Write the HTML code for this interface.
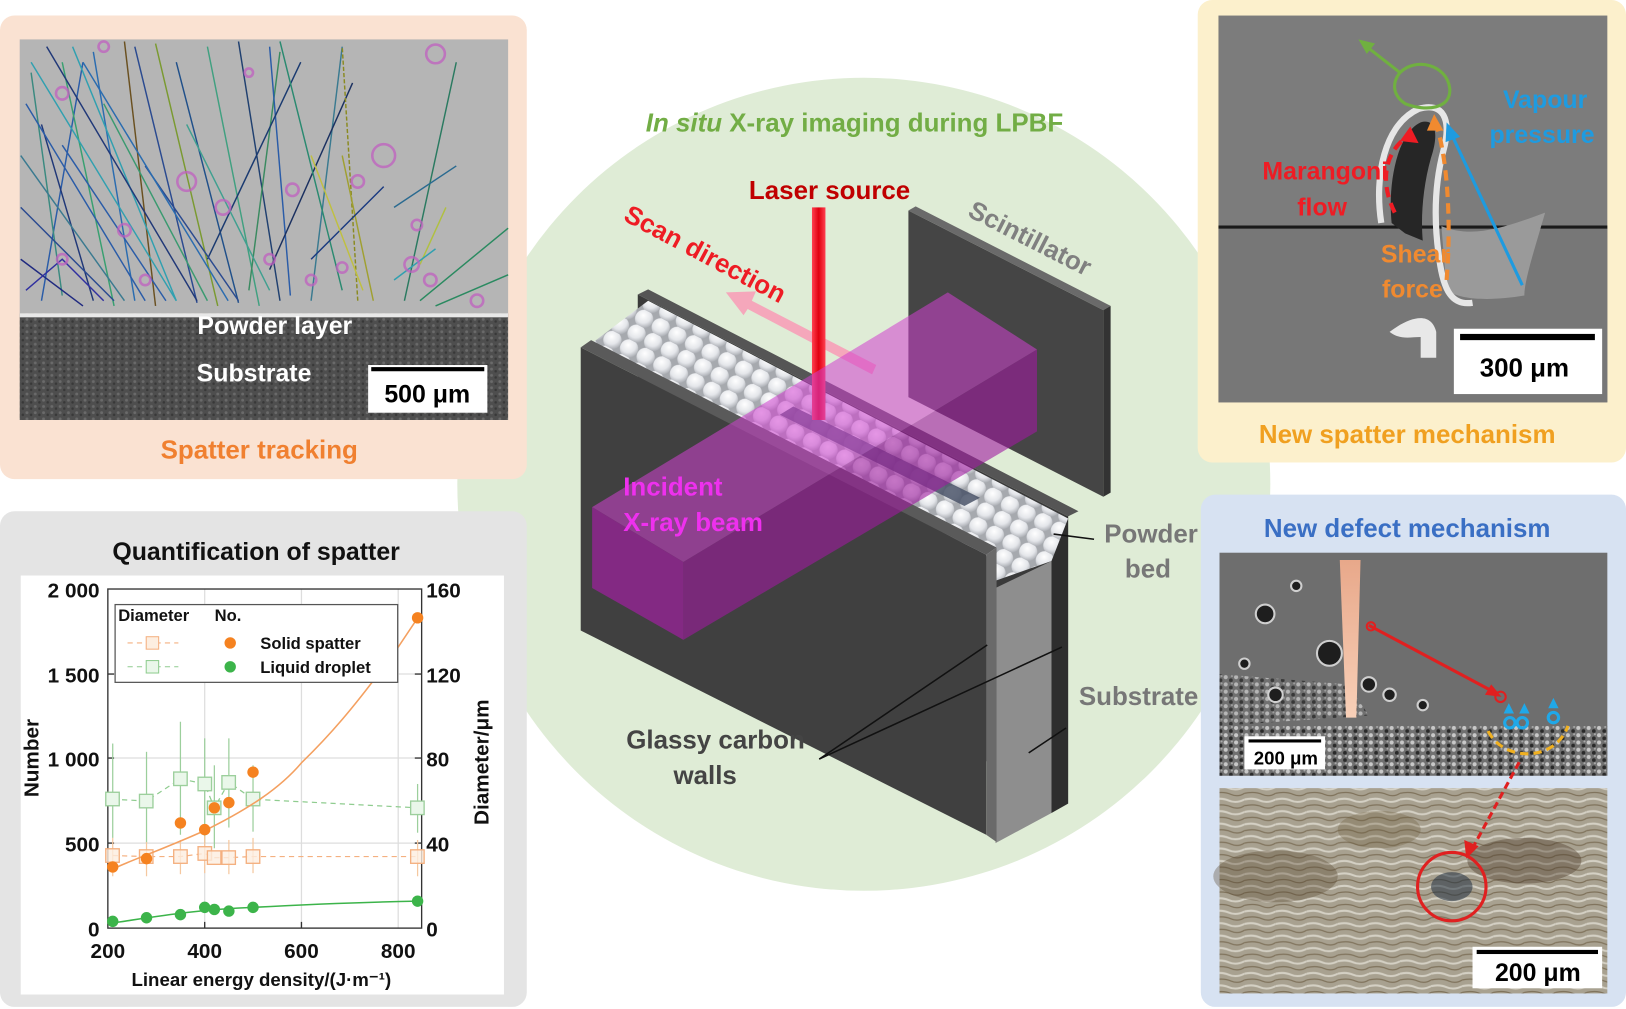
<!DOCTYPE html>
<html><head><meta charset="utf-8"><style>
html,body{margin:0;padding:0;background:#fff;}
svg{display:block;}
text{font-family:"Liberation Sans",Arial,sans-serif;font-weight:bold;}
</style></head><body>
<svg width="1626" height="1009" viewBox="0 0 1568 973" preserveAspectRatio="none" xmlns="http://www.w3.org/2000/svg">
<defs>
<radialGradient id="ball" cx="0.38" cy="0.35" r="0.7"><stop offset="0" stop-color="#ffffff"/><stop offset="0.6" stop-color="#e4e6ea"/><stop offset="1" stop-color="#a9acb2"/></radialGradient>
<pattern id="balls" width="18" height="16" patternUnits="userSpaceOnUse" patternTransform="rotate(27)">
<rect width="18" height="16" fill="#a6a9ae"/>
<circle cx="9" cy="8" r="8.8" fill="url(#ball)"/>
</pattern>
<pattern id="noise" width="8" height="6" patternUnits="userSpaceOnUse">
<rect width="8" height="6" fill="#4e4e4e"/><circle cx="2" cy="2" r="1.4" fill="#6a6a6a"/><circle cx="6" cy="4" r="1.2" fill="#383838"/>
</pattern>
<pattern id="noise2" width="10" height="7" patternUnits="userSpaceOnUse">
<rect width="10" height="7" fill="#707070"/><circle cx="2" cy="2" r="2" fill="#c8c8c8"/><circle cx="7" cy="5" r="1.8" fill="#2a2a2a"/><circle cx="8" cy="1" r="1" fill="#aaaaaa"/>
</pattern>
<pattern id="micro" width="30" height="12" patternUnits="userSpaceOnUse">
<rect width="30" height="12" fill="#a8a190"/><path d="M0 3 Q8 1 15 4 T30 3" stroke="#d4d0c4" stroke-width="2" fill="none"/><path d="M0 9 Q10 7 17 10 T30 9" stroke="#6e5e44" stroke-width="1.2" fill="none" opacity="0.7"/>
</pattern>
<linearGradient id="laser" x1="0" x2="1"><stop offset="0" stop-color="#ff4050"/><stop offset="0.5" stop-color="#e00010"/><stop offset="1" stop-color="#ff4050"/></linearGradient>
<linearGradient id="cone" x1="0" x2="0" y1="0" y2="1"><stop offset="0" stop-color="#e8a88a"/><stop offset="1" stop-color="#f8d0b8"/></linearGradient>
</defs>

<circle cx="833" cy="467" r="392" fill="#dfecd6"/>

<!-- top-left panel -->
<rect x="0" y="15" width="508" height="447" rx="14" fill="#fae2d2"/>
<rect x="19" y="38" width="471" height="264" fill="#b5b5b5"/>
<rect x="19" y="302" width="471" height="103" fill="url(#noise)"/>
<rect x="19" y="302" width="471" height="4" fill="#e8e8e8"/>
<g fill="none" stroke-width="1.4">
<path d="M40 290 L80 60" stroke="#2a5ca8"/><path d="M60 285 L30 70" stroke="#3a8a80"/><path d="M90 290 L40 120" stroke="#203878"/>
<path d="M110 295 L60 60" stroke="#38a070"/><path d="M130 290 L90 50" stroke="#2a6cb0"/><path d="M150 295 L120 40" stroke="#6a5020"/>
<path d="M170 290 L70 45" stroke="#30a0b0"/><path d="M190 292 L130 45" stroke="#2a4a90"/><path d="M210 295 L150 42" stroke="#7a9a30"/>
<path d="M230 292 L170 60" stroke="#20508a"/><path d="M250 295 L200 45" stroke="#40a080"/><path d="M270 290 L230 40" stroke="#204070"/>
<path d="M240 280 L270 50" stroke="#3a8a60"/><path d="M280 285 L260 45" stroke="#2a5ca8"/><path d="M300 290 L330 45" stroke="#3a7a90"/>
<path d="M200 250 L290 60" stroke="#1a3a70"/><path d="M260 260 L340 80" stroke="#1a3060"/><path d="M330 280 L270 40" stroke="#2a8a70"/>
<path d="M345 290 L330 45" stroke="#8a8a20" stroke-dasharray="4 2"/><path d="M360 290 L330 150" stroke="#a0a030"/>
<path d="M300 250 L370 180" stroke="#1a3a80"/><path d="M390 290 L440 60" stroke="#2a7a60"/><path d="M405 290 L490 220" stroke="#2a8a60"/>
<path d="M420 295 L490 265" stroke="#2a8a60"/><path d="M380 200 L440 160" stroke="#2a6a90"/><path d="M20 200 L110 290" stroke="#2a4a90"/>
<path d="M20 150 L120 290" stroke="#3a7a90"/><path d="M20 250 L80 295" stroke="#202a80"/><path d="M60 140 L160 290" stroke="#2a5ca8"/>
<path d="M100 100 L200 290" stroke="#3a9a70"/><path d="M140 160 L230 290" stroke="#2a4a90"/><path d="M180 120 L260 280" stroke="#40a090"/>
<path d="M300 150 L350 280" stroke="#c0c040"/><path d="M405 255 L430 200" stroke="#b0c040"/><path d="M380 270 L420 240" stroke="#30a0b0"/>
<path d="M25 100 L140 290" stroke="#2a5ca8"/><path d="M30 60 L170 290" stroke="#30a0b0"/><path d="M45 45 L190 290" stroke="#203878"/>
<path d="M25 280 L60 250 L100 290" stroke="#3030a0"/><path d="M80 60 L220 290" stroke="#2a6cb0"/>
</g>
<g fill="none" stroke="#c060c0" stroke-width="2.5" opacity="0.75">
<circle cx="420" cy="52" r="9"/><circle cx="370" cy="150" r="11"/><circle cx="180" cy="175" r="9"/><circle cx="345" cy="175" r="6"/>
<circle cx="282" cy="183" r="6"/><circle cx="402" cy="217" r="5"/><circle cx="397" cy="255" r="7"/><circle cx="415" cy="270" r="6"/>
<circle cx="460" cy="290" r="6"/><circle cx="60" cy="90" r="6"/><circle cx="240" cy="70" r="4"/><circle cx="100" cy="45" r="5"/>
<circle cx="215" cy="200" r="7"/><circle cx="120" cy="222" r="6"/><circle cx="330" cy="258" r="5"/><circle cx="60" cy="250" r="5"/><circle cx="140" cy="270" r="5"/><circle cx="260" cy="250" r="5"/><circle cx="300" cy="270" r="5"/>
</g>
<text x="265" y="322" font-size="24" fill="#fff" text-anchor="middle">Powder layer</text>
<text x="245" y="368" font-size="24" fill="#fff" text-anchor="middle">Substrate</text>
<rect x="355" y="352" width="115" height="46" fill="#fff"/>
<rect x="358" y="354" width="109" height="4" fill="#000"/>
<text x="412" y="388" font-size="24" fill="#000" text-anchor="middle">500 μm</text>
<text x="250" y="442" font-size="25" fill="#f08030" text-anchor="middle">Spatter tracking</text>

<!-- bottom-left chart panel -->
<rect x="0" y="493" width="508" height="478" rx="14" fill="#e4e4e4"/>
<text x="247" y="540" font-size="24" fill="#111" text-anchor="middle">Quantification of spatter</text>
<rect x="20" y="555" width="466" height="404" fill="#fff"/>
<g stroke="#dddddd" stroke-width="1.2">
<line x1="197.4" y1="568" x2="197.4" y2="895"/><line x1="290.7" y1="568" x2="290.7" y2="895"/><line x1="384" y1="568" x2="384" y2="895"/>
<line x1="104" y1="813" x2="406.6" y2="813"/><line x1="104" y1="731" x2="406.6" y2="731"/><line x1="104" y1="650" x2="406.6" y2="650"/>
</g>
<g stroke="#333" stroke-width="1.3" fill="none">
<rect x="104" y="568" width="302.6" height="327"/>
<line x1="104" y1="813" x2="110" y2="813"/><line x1="104" y1="731" x2="110" y2="731"/><line x1="104" y1="650" x2="110" y2="650"/>
<line x1="400" y1="813" x2="406.6" y2="813"/><line x1="400" y1="731" x2="406.6" y2="731"/><line x1="400" y1="650" x2="406.6" y2="650"/>
<line x1="197.4" y1="889" x2="197.4" y2="895"/><line x1="290.7" y1="889" x2="290.7" y2="895"/>
</g>
<g font-size="20" fill="#111">
<text x="96" y="576" text-anchor="end">2 000</text><text x="96" y="658" text-anchor="end">1 500</text><text x="96" y="739" text-anchor="end">1 000</text>
<text x="96" y="821" text-anchor="end">500</text><text x="96" y="903" text-anchor="end">0</text>
<text x="411" y="576">160</text><text x="411" y="658">120</text><text x="411" y="739">80</text><text x="411" y="821">40</text><text x="411" y="903">0</text>
<text x="104" y="924" text-anchor="middle">200</text><text x="197.4" y="924" text-anchor="middle">400</text><text x="290.7" y="924" text-anchor="middle">600</text><text x="384" y="924" text-anchor="middle">800</text>
<text x="252" y="951" text-anchor="middle" font-size="18">Linear energy density/(J·m⁻¹)</text>
<text transform="translate(37,731) rotate(-90)" text-anchor="middle">Number</text>
<text transform="translate(471,735) rotate(-90)" text-anchor="middle">Diameter/μm</text>
</g>
<g stroke="#9ccf9c" stroke-width="1.2">
<line x1="108.7" y1="808" x2="108.7" y2="717"/><line x1="141.3" y1="813" x2="141.3" y2="725"/><line x1="174" y1="805" x2="174" y2="696"/>
<line x1="197.4" y1="813" x2="197.4" y2="712"/><line x1="206.7" y1="818" x2="206.7" y2="738"/><line x1="220.7" y1="798" x2="220.7" y2="712"/>
<line x1="244" y1="802" x2="244" y2="738"/><line x1="402.7" y1="803" x2="402.7" y2="756"/>
</g>
<g stroke="#f5c8a0" stroke-width="1.2">
<line x1="108.7" y1="808" x2="108.7" y2="845"/><line x1="141.3" y1="812" x2="141.3" y2="845"/><line x1="174" y1="810" x2="174" y2="843"/><line x1="197.4" y1="806" x2="197.4" y2="842"/><line x1="220.7" y1="810" x2="220.7" y2="843"/><line x1="244" y1="808" x2="244" y2="842"/><line x1="402.7" y1="810" x2="402.7" y2="845"/>
</g>
<polyline fill="none" stroke="#8fcc8f" stroke-width="1.2" stroke-dasharray="5 4" points="108.7,770.7 141.3,772.4 174,751 197.4,756 206.7,779 220.7,754.4 244,770.7 402.7,779"/>
<polyline fill="none" stroke="#f4b080" stroke-width="1.2" stroke-dasharray="5 4" points="108.7,825 141.3,826 174,826 197.4,823 206.7,827 220.7,827 244,826 402.7,826"/>
<g fill="#eaf7ea" stroke="#9ccf9c" stroke-width="1.3">
<rect x="102" y="764" width="13" height="13"/><rect x="134.5" y="766" width="13" height="13"/><rect x="167.5" y="744.5" width="13" height="13"/><rect x="191" y="749.5" width="13" height="13"/><rect x="200" y="772.5" width="13" height="13"/><rect x="214" y="748" width="13" height="13"/><rect x="237.5" y="764" width="13" height="13"/><rect x="396" y="772.5" width="13" height="13"/>
</g>
<g fill="#fdeee0" stroke="#f4b080" stroke-width="1.3" fill-opacity="0.8">
<rect x="102" y="818.5" width="13" height="13"/><rect x="134.5" y="819.5" width="13" height="13"/><rect x="167.5" y="819.5" width="13" height="13"/><rect x="191" y="816.5" width="13" height="13"/><rect x="200" y="820.5" width="13" height="13"/><rect x="214" y="820.5" width="13" height="13"/><rect x="237.5" y="819.5" width="13" height="13"/><rect x="396" y="819.5" width="13" height="13"/>
</g>
<path d="M108.7 838 C130 828 150 822 197.4 801 C240 780 270 760 290.7 735.6 C315 712 340 685 384 624 L402.7 596" fill="none" stroke="#f4a060" stroke-width="1.5"/>
<path d="M108.7 890 C150 884 190 877 244 875 C300 872 350 870 402.7 869" fill="none" stroke="#3cb44a" stroke-width="1.5"/>
<g fill="#f58220">
<circle cx="108.7" cy="836" r="5.5"/><circle cx="141.3" cy="828" r="5.5"/><circle cx="174" cy="793.6" r="5.5"/><circle cx="197.4" cy="800" r="5.5"/><circle cx="206.7" cy="779" r="5.5"/><circle cx="220.7" cy="774" r="5.5"/><circle cx="244" cy="744.6" r="5.5"/><circle cx="402.7" cy="595.8" r="5.5"/>
</g>
<g fill="#3cb44a">
<circle cx="108.7" cy="888.5" r="5.5"/><circle cx="141.3" cy="885" r="5.5"/><circle cx="174" cy="882" r="5.5"/><circle cx="197.4" cy="875" r="5.5"/><circle cx="206.7" cy="877" r="5.5"/><circle cx="220.7" cy="878.6" r="5.5"/><circle cx="244" cy="875" r="5.5"/><circle cx="402.7" cy="869" r="5.5"/>
</g>
<rect x="111" y="583" width="272.5" height="75" fill="#fff" stroke="#555" stroke-width="1.2"/>
<g font-size="16" fill="#111">
<text x="114" y="599">Diameter</text><text x="207" y="599">No.</text>
<text x="251" y="626">Solid spatter</text><text x="251" y="649">Liquid droplet</text>
</g>
<line x1="123" y1="620" x2="172" y2="620" stroke="#f4b080" stroke-dasharray="5 4"/><rect x="141" y="614" width="12" height="12" fill="#fdeee0" stroke="#f4b080"/>
<line x1="123" y1="643" x2="172" y2="643" stroke="#8fcc8f" stroke-dasharray="5 4"/><rect x="141" y="637" width="12" height="12" fill="#eaf7ea" stroke="#8fcc8f"/>
<circle cx="222" cy="620" r="5.5" fill="#f58220"/><circle cx="222" cy="643" r="5.5" fill="#3cb44a"/>

<!-- center content -->
<text x="824" y="127" font-size="25" fill="#72ad45" text-anchor="middle"><tspan font-style="italic">In situ</tspan> X-ray imaging during LPBF</text>
<text x="800" y="192" font-size="25" fill="#c00000" text-anchor="middle">Laser source</text>
<text transform="translate(600,212) rotate(28)" font-size="25" fill="#ee1c24">Scan direction</text>
<text transform="translate(932,208) rotate(27)" font-size="25" fill="#808080">Scintillator</text>

<polygon points="876,203 1064,299 1064,479 876,383" fill="#454545"/>
<polygon points="876,203 883,199 1071,295 1064,299" fill="#6a6a6a"/>
<polygon points="1064,299 1071,295 1071,475 1064,479" fill="#333"/>

<polygon points="615,284 1030,498 1030,775 615,560" fill="#3a3a3a"/>
<polygon points="615,284 625,279 1040,493 1030,498" fill="#555"/>
<polygon points="960,567 1014,541 1014,784 960,813" fill="#8e8e8e"/>
<polygon points="1014,498 1030,498 1030,775 1014,784" fill="#2e2e2e"/>
<polygon points="572,330 625,290 1030,500 1014,541 960,560 951,536" fill="url(#balls)"/>
<polygon points="765,392 945,480 930,488 752,400" fill="#4a5468" opacity="0.85"/>
<polygon points="560,335 951,535 951,805 560,608" fill="#404040"/>
<polygon points="560,335 570,328 961,528 951,535" fill="#5a5a5a"/>
<polygon points="951,535 961,528 961,812 951,805" fill="#6a6a6a"/>
<polygon points="845,352 725,290 729,281 700,282 717,304 721,298 841,361" fill="#f7a0b8" opacity="0.9"/>
<rect x="783" y="200" width="13" height="205" fill="url(#laser)"/>
<polygon points="571,489 914,282 1000,337 659,542" fill="#d040d0" opacity="0.55"/>
<polygon points="659,542 1000,337 1000,416 659,617" fill="#a01aa0" opacity="0.6"/>
<polygon points="571,489 659,542 659,617 571,567" fill="#a020a0" opacity="0.7"/>
<text x="601" y="478" font-size="25" fill="#ee30ee">Incident</text>
<text x="601" y="512" font-size="25" fill="#ee30ee">X-ray beam</text>

<text x="1110" y="523" font-size="25" fill="#777" text-anchor="middle">Powder</text>
<text x="1107" y="557" font-size="25" fill="#777" text-anchor="middle">bed</text>
<line x1="1055" y1="520" x2="1016" y2="515" stroke="#111" stroke-width="1.5"/>
<text x="1098" y="680" font-size="25" fill="#777" text-anchor="middle">Substrate</text>
<line x1="1028" y1="702" x2="992" y2="726" stroke="#111" stroke-width="1.5"/>
<text x="690" y="722" font-size="25" fill="#444" text-anchor="middle">Glassy carbon</text>
<text x="680" y="756" font-size="25" fill="#444" text-anchor="middle">walls</text>
<line x1="790" y1="732" x2="952" y2="622" stroke="#111" stroke-width="1.5"/>
<line x1="790" y1="732" x2="1024" y2="624" stroke="#111" stroke-width="1.5"/>

<!-- top-right panel -->
<rect x="1155" y="0" width="413" height="446" rx="14" fill="#fcf0cc"/>
<rect x="1175" y="15" width="375" height="373" fill="#7c7c7c"/>
<rect x="1175" y="220" width="375" height="168" fill="#777"/>
<line x1="1175" y1="219" x2="1550" y2="219" stroke="#1a1a1a" stroke-width="3"/>
<path d="M1390 218 C1420 230 1450 220 1490 205 C1480 240 1470 270 1470 285 C1440 290 1410 290 1395 280 Z" fill="#9a9a9a"/>
<path d="M1332 215 C1325 170 1335 120 1368 105 C1392 98 1400 115 1392 145 C1384 175 1382 210 1388 250 C1392 280 1400 295 1420 292" fill="none" stroke="#e6e6e6" stroke-width="6"/>
<path d="M1342 215 C1338 175 1348 128 1370 118 C1384 114 1388 128 1380 152 C1372 180 1370 210 1372 232 L1355 225 Z" fill="#262626"/>
<path d="M1340 320 C1360 305 1380 300 1385 320 L1385 345 L1370 345 L1370 325 C1360 325 1350 328 1340 320 Z" fill="#e8e8e8"/>
<path d="M1350 70 C1365 55 1395 62 1398 85 C1400 105 1375 108 1355 100 C1343 92 1342 80 1350 70 Z" fill="none" stroke="#70b040" stroke-width="3"/>
<line x1="1350" y1="70" x2="1318" y2="45" stroke="#70b040" stroke-width="3"/><polygon points="1310,38 1326,42 1318,52" fill="#70b040"/>
<path d="M1345 205 C1330 175 1335 145 1360 130" fill="none" stroke="#ee1c24" stroke-width="4" stroke-dasharray="10 6"/><polygon points="1360,122 1368,138 1350,136" fill="#ee1c24"/>
<path d="M1395 270 C1400 210 1395 150 1385 120" fill="none" stroke="#f08a30" stroke-width="4" stroke-dasharray="10 6"/><polygon points="1383,110 1392,126 1376,126" fill="#f08a30"/>
<line x1="1468" y1="275" x2="1400" y2="130" stroke="#1e9be0" stroke-width="3"/><polygon points="1395,118 1408,132 1394,137" fill="#1e9be0"/>
<text x="1490" y="104" font-size="24" fill="#1e9be0" text-anchor="middle">Vapour</text>
<text x="1487" y="138" font-size="24" fill="#1e9be0" text-anchor="middle">pressure</text>
<text x="1278" y="173" font-size="24" fill="#ee1c24" text-anchor="middle">Marangoni</text>
<text x="1275" y="208" font-size="24" fill="#ee1c24" text-anchor="middle">flow</text>
<text x="1365" y="253" font-size="24" fill="#f08a30" text-anchor="middle">Shear</text>
<text x="1362" y="287" font-size="24" fill="#f08a30" text-anchor="middle">force</text>
<rect x="1402" y="317" width="143" height="63" fill="#fff"/>
<rect x="1408" y="322" width="130" height="6" fill="#000"/>
<text x="1470" y="363" font-size="25" fill="#000" text-anchor="middle">300 μm</text>
<text x="1357" y="427" font-size="25" fill="#f0a020" text-anchor="middle">New spatter mechanism</text>

<!-- bottom-right panel -->
<rect x="1158" y="477" width="410" height="494" rx="14" fill="#d7e2f2"/>
<text x="1357" y="518" font-size="25" fill="#3a6fc4" text-anchor="middle">New defect mechanism</text>
<rect x="1176" y="533" width="374" height="215" fill="#6e6e6e"/>
<rect x="1176" y="700" width="374" height="48" fill="url(#noise2)"/>
<path d="M1176 650 L1300 660 L1320 690 L1176 700 Z" fill="url(#noise2)" opacity="0.8"/>
<g fill="#1e1e1e" stroke="#cfcfcf" stroke-width="2">
<circle cx="1220" cy="592" r="9"/><circle cx="1282" cy="630" r="12"/><circle cx="1320" cy="660" r="7"/><circle cx="1340" cy="670" r="6"/><circle cx="1200" cy="640" r="5"/><circle cx="1250" cy="565" r="5"/><circle cx="1372" cy="680" r="5"/><circle cx="1230" cy="670" r="7"/>
</g>
<polygon points="1292,540 1312,540 1308,692 1298,692" fill="url(#cone)"/>
<line x1="1320" y1="603" x2="1442" y2="668" stroke="#e02020" stroke-width="3"/><polygon points="1448,672 1432,670 1438,660" fill="#e02020"/>
<circle cx="1322" cy="604" r="4" fill="none" stroke="#e02020" stroke-width="2"/><circle cx="1447" cy="672" r="5" fill="none" stroke="#e02020" stroke-width="2"/>
<g fill="none" stroke="#20a8e8" stroke-width="3"><circle cx="1456" cy="697" r="5"/><circle cx="1468" cy="697" r="5"/><circle cx="1498" cy="692" r="5"/></g>
<g fill="#20a8e8"><polygon points="1450,688 1460,688 1455,678"/><polygon points="1465,688 1475,688 1470,678"/><polygon points="1493,683 1503,683 1498,673"/></g>
<path d="M1435 705 C1450 735 1500 735 1512 700" fill="none" stroke="#f0b020" stroke-width="3" stroke-dasharray="8 5"/>
<rect x="1200" y="710" width="78" height="32" fill="#fff"/><rect x="1204" y="713" width="70" height="3" fill="#000"/>
<text x="1240" y="737" font-size="18" fill="#000" text-anchor="middle">200 μm</text>
<rect x="1176" y="760" width="374" height="198" fill="url(#micro)"/>
<ellipse cx="1230" cy="845" rx="60" ry="25" fill="#5a4830" opacity="0.35"/><ellipse cx="1470" cy="830" rx="55" ry="22" fill="#4a3a28" opacity="0.4"/><ellipse cx="1330" cy="800" rx="40" ry="18" fill="#6a5838" opacity="0.3"/><ellipse cx="1400" cy="855" rx="20" ry="14" fill="#203040" opacity="0.55"/>
<line x1="1465" y1="735" x2="1420" y2="818" stroke="#e02020" stroke-width="3" stroke-dasharray="7 4"/><polygon points="1414,828 1412,810 1426,816" fill="#e02020"/>
<circle cx="1400" cy="855" r="33" fill="none" stroke="#e02020" stroke-width="3"/>
<rect x="1420" y="913" width="125" height="40" fill="#fff"/><rect x="1424" y="916" width="117" height="4" fill="#000"/>
<text x="1483" y="946" font-size="24" fill="#000" text-anchor="middle">200 μm</text>
</svg>
</body></html>
